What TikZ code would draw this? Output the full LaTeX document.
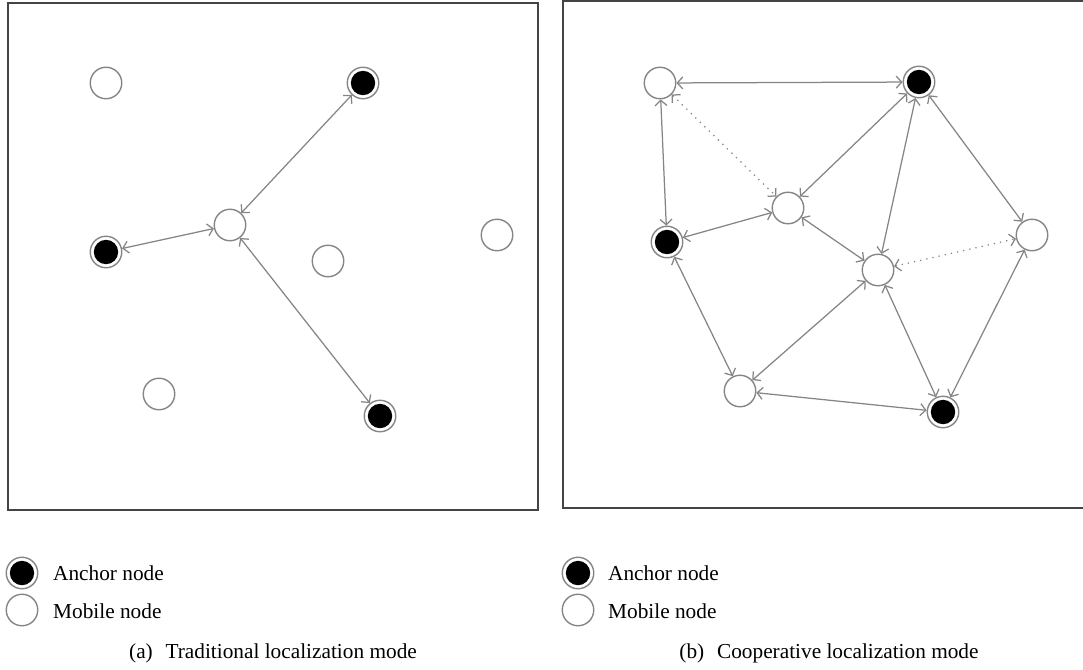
\documentclass[tikz,border=0pt]{standalone}
\usepackage{fontspec}
\setmainfont{Liberation Serif}
\usetikzlibrary{arrows.meta}
\definecolor{nodegray}{HTML}{858585}
\definecolor{linegray}{HTML}{858585}
\definecolor{framegray}{HTML}{444444}
\begin{document}
\begin{tikzpicture}[x=1pt,y=-1pt,
  mob/.style={circle,draw=nodegray,line width=1.4pt,fill=white,minimum size=31.5pt,inner sep=0pt},
  anc/.style={mob,path picture={\fill[black] (path picture bounding box.center) circle (12.2pt);}},
  link/.style={draw=linegray,line width=1.25pt,{Straight Barb[length=5.5pt,width=12pt]}-{Straight Barb[length=5.5pt,width=12pt]}},
  dotlink/.style={link,dash pattern=on 1.3pt off 5pt},
  frame/.style={draw=framegray,line width=1.7pt},
  lbl/.style={anchor=base west,font=\fontsize{21.3}{24}\selectfont,inner sep=0pt},
  captext/.style={anchor=base,font=\fontsize{21.3}{24}\selectfont,inner sep=0pt}]
\useasboundingbox (0,0) rectangle (1083,669);
% frames
\draw[frame] (8,3) rectangle (538,510);
\draw[frame] (563,1) rectangle (1092,508);
% ---- panel (a)
\node[mob] (a1) at (106,83) {};
\node[anc] (a2) at (363,83) {};
\node[mob] (a3) at (230,225) {};
\node[anc] (a4) at (106,252) {};
\node[mob] (a5) at (328,261) {};
\node[mob] (a6) at (497,235) {};
\node[mob] (a7) at (159,394) {};
\node[anc] (a8) at (380,416) {};
\draw[link] (a3) -- (a2);
\draw[link] (a3) -- (a4);
\draw[link] (a3) -- (a8);
% ---- panel (b)
\node[mob] (m1) at (660,83) {};
\node[anc] (b1) at (919,82) {};
\node[mob] (m2) at (788,208) {};
\node[anc] (b2) at (667,242) {};
\node[mob] (m3) at (1032,235) {};
\node[mob] (m4) at (878,270) {};
\node[mob] (m5) at (740,391) {};
\node[anc] (b3) at (943,412) {};
\draw[link] (m1) -- (b1);
\draw[link] (m1) -- (b2);
\draw[dotlink] (m1) -- (m2);
\draw[link] (b1) -- (m2);
\draw[link] (b1) -- (m4);
\draw[link] (b1) -- (m3);
\draw[link] (m2) -- (b2);
\draw[link] (m2) -- (m4);
\draw[dotlink] (m4) -- (m3);
\draw[link] (b2) -- (m5);
\draw[link] (m5) -- (m4);
\draw[link] (m5) -- (b3);
\draw[link] (m4) -- (b3);
\draw[link] (m3) -- (b3);
% ---- legends
\node[anc] (la) at (22,573) {};
\node[mob] (lm) at (22,610) {};
\node[lbl] (lat) at (53,580) {Anchor node};
\node[lbl] (lmt) at (53,618) {Mobile node};
\node[anc] (ra) at (578,573) {};
\node[mob] (rm) at (578,610) {};
\node[lbl] (rat) at (608,580) {Anchor node};
\node[lbl] (rmt) at (608,618) {Mobile node};
% ---- captions
\node[captext] (capa) at (273,658) {(a)\hspace{0.6em}Traditional localization mode};
\node[captext] (capb) at (829,658) {(b)\hspace{0.6em}Cooperative localization mode};
\end{tikzpicture}
\end{document}
